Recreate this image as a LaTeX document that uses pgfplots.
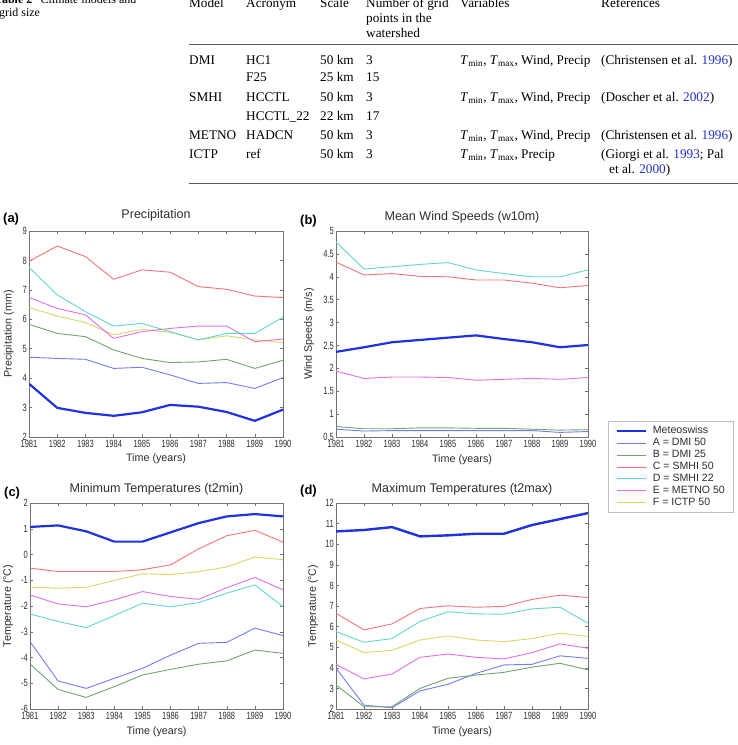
\documentclass[border=0pt]{standalone}
\usepackage{fontspec}
\setmainfont{Liberation Serif}
\setsansfont{Liberation Sans}
\usepackage{graphicx}
\usepackage{pgfplots}
\usepackage{pgfplotstable}
\pgfplotsset{compat=1.18}

\definecolor{cMS}{RGB}{30,50,225}
\definecolor{cA}{RGB}{120,120,250}
\definecolor{cB}{RGB}{110,165,110}
\definecolor{cC}{RGB}{250,115,115}
\definecolor{cD}{RGB}{95,215,205}
\definecolor{cE}{RGB}{225,110,230}
\definecolor{cF}{RGB}{215,215,100}
\definecolor{refblue}{RGB}{35,45,200}
\definecolor{rulegray}{RGB}{90,90,90}
\definecolor{txt}{RGB}{45,45,45}

\newcommand\sx[1]{\scalebox{0.72}[1]{#1}}
\newcommand\tabfont{\rmfamily\fontsize{13.3}{15}\selectfont}
\newcommand\Tv{\textit{T}\textsubscript{min}, \textit{T}\textsubscript{max}}

\pgfplotstableread{
year MS A B C D E F
1981 3.81 4.71 5.83 7.97 7.77 6.74 6.40
1982 2.99 4.67 5.52 8.49 6.83 6.37 6.11
1983 2.82 4.64 5.41 8.13 6.26 6.15 5.89
1984 2.72 4.33 4.96 7.36 5.77 5.35 5.47
1985 2.84 4.37 4.67 7.68 5.86 5.58 5.66
1986 3.09 4.11 4.53 7.60 5.58 5.69 5.56
1987 3.03 3.82 4.55 7.11 5.30 5.77 5.30
1988 2.85 3.85 4.64 7.02 5.52 5.77 5.44
1989 2.55 3.65 4.33 6.79 5.52 5.24 5.30
1990 2.93 4.02 4.61 6.74 6.07 5.33 5.21
}\tabPrecip

\pgfplotstableread{
year MS A B C D E
1981 2.36 0.67 0.73 4.32 4.76 1.94
1982 2.46 0.63 0.68 4.04 4.17 1.78
1983 2.57 0.64 0.68 4.07 4.22 1.81
1984 2.62 0.64 0.70 4.01 4.27 1.81
1985 2.67 0.64 0.70 4.00 4.31 1.80
1986 2.72 0.64 0.69 3.93 4.15 1.74
1987 2.64 0.64 0.69 3.93 4.07 1.76
1988 2.57 0.64 0.67 3.86 4.00 1.78
1989 2.46 0.60 0.65 3.76 4.00 1.76
1990 2.51 0.62 0.66 3.81 4.15 1.80
}\tabWind

\pgfplotstableread{
year MS A B C D E F
1981 1.07 -3.38 -4.25 -0.53 -2.31 -1.57 -1.27
1982 1.13 -4.91 -5.24 -0.66 -2.60 -1.92 -1.31
1983 0.90 -5.20 -5.55 -0.66 -2.84 -2.03 -1.27
1984 0.50 -4.81 -5.13 -0.66 -2.37 -1.76 -1.01
1985 0.50 -4.42 -4.68 -0.59 -1.89 -1.44 -0.75
1986 0.86 -3.91 -4.46 -0.40 -2.03 -1.63 -0.78
1987 1.22 -3.45 -4.26 0.22 -1.87 -1.74 -0.67
1988 1.48 -3.41 -4.13 0.73 -1.50 -1.29 -0.48
1989 1.57 -2.86 -3.71 0.94 -1.18 -0.89 -0.10
1990 1.48 -3.15 -3.84 0.48 -2.02 -1.37 -0.20
}\tabTmin

\pgfplotstableread{
year MS A B C D E F
1981 10.62 3.98 3.17 6.65 5.76 4.17 5.35
1982 10.69 2.19 2.11 5.84 5.24 3.46 4.74
1983 10.83 2.06 2.11 6.13 5.42 3.70 4.85
1984 10.38 2.88 3.00 6.88 6.25 4.51 5.35
1985 10.43 3.20 3.49 7.01 6.72 4.67 5.55
1986 10.51 3.73 3.65 6.94 6.62 4.51 5.35
1987 10.51 4.14 3.78 6.98 6.60 4.43 5.27
1988 10.93 4.17 4.03 7.32 6.86 4.74 5.42
1989 11.22 4.58 4.22 7.53 6.94 5.16 5.68
1990 11.51 4.46 3.90 7.41 6.17 4.95 5.52
}\tabTmax

\pgfplotsset{
  panel/.style={
    scale only axis, height=206bp,
    xmin=1981, xmax=1990,
    xtick={1981,1982,1983,1984,1985,1986,1987,1988,1989,1990},
    xticklabels={\sx{1981},\sx{1982},\sx{1983},\sx{1984},\sx{1985},\sx{1986},\sx{1987},\sx{1988},\sx{1989},\sx{1990}},
    yticklabel={\sx{\pgfmathprintnumber{\tick}}},
    /pgf/number format/assume math mode=true,
    tick align=inside, major tick length=3bp,
    axis line style={black!55, line width=0.6bp},
    tick style={black!55, line width=0.5bp},
    every tick label/.append style={font=\sffamily\fontsize{10.5}{11}\selectfont, text=txt},
    xticklabel style={inner sep=0pt, anchor=north, yshift=-2.5bp},
    yticklabel style={inner sep=0pt, anchor=east, xshift=-2bp},
    every axis title/.style={at={(axis description cs:0.5,1)}, anchor=base, yshift=10.8bp, inner sep=0pt,
                 font=\sffamily\fontsize{12.6}{14}\selectfont, text=txt},
    every axis x label/.style={at={(axis description cs:0.5,0)}, anchor=base, yshift=-25bp, inner sep=0pt,
                  font=\sffamily\fontsize{10.8}{12}\selectfont, text=txt},
    every axis y label/.style={rotate=90, anchor=center, font=\sffamily\fontsize{10.8}{12}\selectfont, text=txt, inner sep=0pt},
    xlabel={Time (years)},
    every axis plot/.append style={line join=round, line width=0.9bp},
  },
}

\begin{document}
\begin{tikzpicture}
\path[use as bounding box] (0,0) rectangle (738bp,-745bp);

% ---------- table ----------
\begin{scope}[every node/.style={anchor=base west, inner sep=0pt, font=\tabfont, text=black}]
\node at (-5bp,-3.5bp) {\fontsize{12}{14}\selectfont\textbf{Table 2}\hspace{0.7em}Climate models and};
\node at (-1bp,-16.5bp) {\fontsize{12}{14}\selectfont grid size};
\node at (189bp,-7bp) {Model};
\node at (246bp,-7bp) {Acronym};
\node at (320bp,-7bp) {Scale};
\node at (366bp,-7bp) {Number of grid};
\node at (366bp,-22bp) {points in the};
\node at (366bp,-37bp) {watershed};
\node at (460bp,-7bp) {Variables};
\node at (601bp,-7bp) {References};

\node at (189bp,-64bp) {DMI};
\node at (246bp,-64bp) {HC1};
\node at (320bp,-64bp) {50 km};
\node at (366bp,-64bp) {3};
\node at (460bp,-64bp) {\Tv, Wind, Precip};
\node at (601bp,-64bp) {(Christensen et al. {\color{refblue}1996})};

\node at (246bp,-81.5bp) {F25};
\node at (320bp,-81.5bp) {25 km};
\node at (366bp,-81.5bp) {15};

\node at (189bp,-101bp) {SMHI};
\node at (246bp,-101bp) {HCCTL};
\node at (320bp,-101bp) {50 km};
\node at (366bp,-101bp) {3};
\node at (460bp,-101bp) {\Tv, Wind, Precip};
\node at (601bp,-101bp) {(Doscher et al. {\color{refblue}2002})};

\node at (246bp,-120bp) {HCCTL\_22};
\node at (320bp,-120bp) {22 km};
\node at (366bp,-120bp) {17};

\node at (189bp,-139bp) {METNO};
\node at (246bp,-139bp) {HADCN};
\node at (320bp,-139bp) {50 km};
\node at (366bp,-139bp) {3};
\node at (460bp,-139bp) {\Tv, Wind, Precip};
\node at (601bp,-139bp) {(Christensen et al. {\color{refblue}1996})};

\node at (189bp,-158bp) {ICTP};
\node at (246bp,-158bp) {ref};
\node at (320bp,-158bp) {50 km};
\node at (366bp,-158bp) {3};
\node at (460bp,-158bp) {\Tv, Precip};
\node at (601bp,-158bp) {(Giorgi et al. {\color{refblue}1993}; Pal};
\node at (609bp,-173bp) {et al. {\color{refblue}2000})};
\end{scope}
\draw[rulegray, line width=1.6bp] (189bp,-44.5bp) -- (738bp,-44.5bp);
\draw[rulegray, line width=0.8bp] (189bp,-183bp) -- (738bp,-183bp);

% ---------- panel labels ----------
\begin{scope}[every node/.style={anchor=base west, inner sep=0pt, font=\sffamily\bfseries\fontsize{13}{15}\selectfont, text=black}]
\node at (3bp,-222.5bp) {(a)};
\node at (300bp,-224bp) {(b)};
\node at (4bp,-496bp) {(c)};
\node at (300bp,-494.5bp) {(d)};
\end{scope}

% ---------- (a) ----------
\begin{axis}[panel, at={(29bp,-231bp)}, anchor=north west, width=254bp,
  ymin=2, ymax=9, ytick={2,3,4,5,6,7,8,9},
  title={Precipitation}, title style={yshift=1.5bp},
  ylabel={Precipitation (mm)},
  ylabel style={at={(axis description cs:-0.0795,0.5)}}]
\addplot[color=cF] table[x=year,y=F] {\tabPrecip};
\addplot[color=cE] table[x=year,y=E] {\tabPrecip};
\addplot[color=cD] table[x=year,y=D] {\tabPrecip};
\addplot[color=cC] table[x=year,y=C] {\tabPrecip};
\addplot[color=cB] table[x=year,y=B] {\tabPrecip};
\addplot[color=cA] table[x=year,y=A] {\tabPrecip};
\addplot[color=cMS, line width=2.2bp] table[x=year,y=MS] {\tabPrecip};
\end{axis}

% ---------- (b) ----------
\begin{axis}[panel, at={(336bp,-231bp)}, anchor=north west, width=252bp,
  ymin=0.5, ymax=5, ytick={0.5,1,1.5,2,2.5,3,3.5,4,4.5,5},
  title={Mean Wind Speeds (w10m)},
  ylabel={Wind Speeds (m/s)},
  ylabel style={at={(axis description cs:-0.107,0.5)}}]
\addplot[color=cE] table[x=year,y=E] {\tabWind};
\addplot[color=cD] table[x=year,y=D] {\tabWind};
\addplot[color=cC] table[x=year,y=C] {\tabWind};
\addplot[color=cB] table[x=year,y=B] {\tabWind};
\addplot[color=cA] table[x=year,y=A] {\tabWind};
\addplot[color=cMS, line width=2.2bp] table[x=year,y=MS] {\tabWind};
\end{axis}

% ---------- (c) ----------
\begin{axis}[panel, at={(30bp,-503bp)}, anchor=north west, width=253bp,
  ymin=-6, ymax=2, ytick={-6,-5,-4,-3,-2,-1,0,1,2},
  title={Minimum Temperatures (t2min)},
  ylabel={Temperature (°C)},
  ylabel style={at={(axis description cs:-0.087,0.5)}}]
\addplot[color=cF] table[x=year,y=F] {\tabTmin};
\addplot[color=cE] table[x=year,y=E] {\tabTmin};
\addplot[color=cD] table[x=year,y=D] {\tabTmin};
\addplot[color=cC] table[x=year,y=C] {\tabTmin};
\addplot[color=cB] table[x=year,y=B] {\tabTmin};
\addplot[color=cA] table[x=year,y=A] {\tabTmin};
\addplot[color=cMS, line width=2.2bp] table[x=year,y=MS] {\tabTmin};
\end{axis}

% ---------- (d) ----------
\begin{axis}[panel, at={(336bp,-503bp)}, anchor=north west, width=252bp,
  ymin=2, ymax=12, ytick={2,3,4,5,6,7,8,9,10,11,12},
  title={Maximum Temperatures (t2max)},
  ylabel={Temperature (°C)},
  ylabel style={at={(axis description cs:-0.091,0.5)}},
  legend style={at={(axis description cs:1.0794,1.398)}, anchor=north west,
    draw=black!25, line width=0.6bp, fill=white, inner xsep=7bp, inner ysep=4bp,
    row sep=0pt, column sep=5bp,
    font=\sffamily\fontsize{10.6}{12}\selectfont\color{txt},
    nodes={inner sep=1.2bp, text height=7.4bp, text depth=2.1bp}},
  legend cell align=left,
  legend image code/.code={\draw[#1] (0bp,0bp) -- (29bp,0bp);}]
\addplot[color=cMS, line width=2.4bp] table[x=year,y=MS] {\tabTmax};
\addplot[color=cA] table[x=year,y=A] {\tabTmax};
\addplot[color=cB] table[x=year,y=B] {\tabTmax};
\addplot[color=cC] table[x=year,y=C] {\tabTmax};
\addplot[color=cD] table[x=year,y=D] {\tabTmax};
\addplot[color=cE] table[x=year,y=E] {\tabTmax};
\addplot[color=cF] table[x=year,y=F] {\tabTmax};
\legend{Meteoswiss, A = DMI 50, B = DMI 25, C = SMHI 50, D = SMHI 22, E = METNO 50, F = ICTP 50}
\end{axis}
\end{tikzpicture}
\end{document}
